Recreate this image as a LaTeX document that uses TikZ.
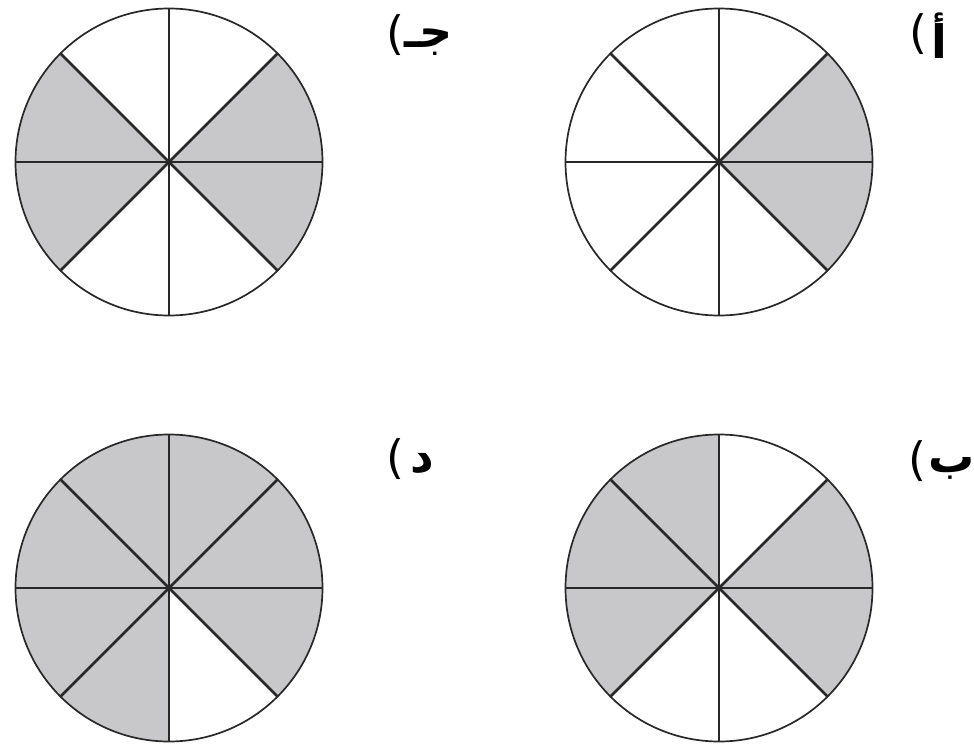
\documentclass[tikz,border=0pt]{standalone}
\usepackage{fontspec}
\newfontfamily\arabicfont[Script=Arabic]{DejaVu Sans}
\newfontfamily\parfont{DejaVu Sans}
\TeXXeTstate=1
\definecolor{sectorgray}{RGB}{200,200,203}
\definecolor{linegray}{RGB}{40,40,40}
\tikzset{
  pie/.style={circle, draw=linegray, line width=1.7pt, minimum size=307pt, inner sep=0pt, outer sep=0pt},
  spoke/.style={draw=linegray, line width=2.7pt},
  parlbl/.style={inner sep=0pt, font=\parfont\fontsize{46}{50}\selectfont},
  letlbl/.style={inner sep=0pt, font=\arabicfont\bfseries\fontsize{46}{50}\selectfont}
}
\newcommand{\piechart}[3]{%
  % #1 name, #2 center, #3 list of shaded start angles
  \coordinate (#1c) at #2;
  \foreach \a in {#3} {
    \fill[sectorgray] (#1c) -- ++(\a:153.5pt) arc[start angle=\a, end angle=\a+45, radius=153.5pt] -- cycle;
  }
  \node[pie] (#1) at (#1c) {};
  \foreach \a in {0,45,...,315} {
    \draw[spoke] (#1.center) -- (#1.\a);
  }
  \fill[linegray] (#1.center) circle (3pt);
}
\begin{document}
\begin{tikzpicture}[x=1pt,y=-1pt]
\useasboundingbox[fill=white] (0,0) rectangle (974,749);
\piechart{pa}{(719,162)}{0,-45}
\piechart{pj}{(169,162)}{0,-45,135,180}
\piechart{pb}{(719,588)}{0,-45,90,135,180}
\piechart{pd}{(169,588)}{0,45,90,135,180,225,315}
% labels
\node[parlbl] (paA) at (918,34) {(};
\node[letlbl, anchor=west] (ltA) at (931,36) {\beginR أ\endR};
\node[parlbl] (paJ) at (395,35) {(};
\node[letlbl, anchor=west] (ltJ) at (404,42) {\beginR جـ\endR};
\node[parlbl] (paD) at (395,459) {(};
\node[letlbl, anchor=west] (ltD) at (410,464) {\beginR د\endR};
\node[parlbl] (paB) at (917,461) {(};
\node[letlbl, anchor=west] (ltB) at (928,468) {\beginR ب\endR};
\end{tikzpicture}
\end{document}
